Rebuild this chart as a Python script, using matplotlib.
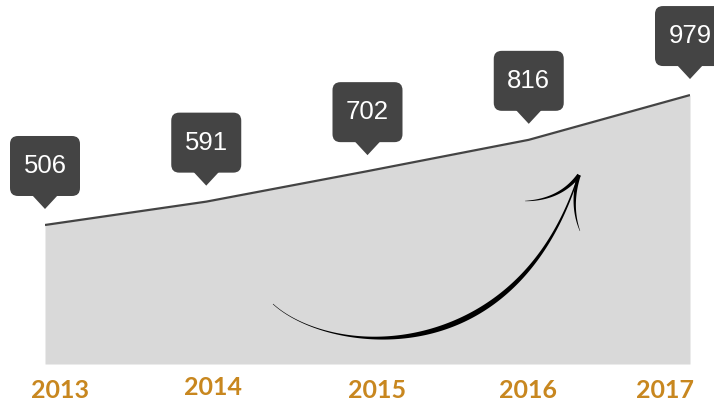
import numpy as np
import matplotlib
matplotlib.use('Agg')
import matplotlib.pyplot as plt
from matplotlib.patches import FancyBboxPatch, Polygon
from math import comb

# ---- data ----
years = ['2013', '2014', '2015', '2016', '2017']
values = [506, 591, 702, 816, 979]

W, H, DPI = 714, 401, 100
LINE = '#444444'
FILL = '#d9d9d9'
BOX = '#444444'
GOLD = '#c8871f'

# per-label pixel nudges for the year row (layout only)
label_dx = [15, 7, 10, -1, -25]
label_dy = [0, 3, 0, 0, 0]

fig = plt.figure(figsize=(W / DPI, H / DPI), dpi=DPI)
x = np.arange(len(values))

ax = fig.add_axes([45 / W, (H - 364) / H, 645 / W, 364 / H])
ax.fill_between(x, 0, values, color=FILL, lw=0)
ax.plot(x, values, color=LINE, lw=1.6, solid_capstyle='butt')
ax.set_xlim(0, len(values) - 1)
ax.set_ylim(0, 1325)
ax.axis('off')

# overlay in figure pixels for callouts and the arrow
ov = fig.add_axes([0, 0, 1, 1], zorder=5)
ov.set_xlim(0, W)
ov.set_ylim(0, H)
ov.axis('off')


def tapered(px, py, widths, **kw):
    dx = np.gradient(px)
    dy = np.gradient(py)
    n = np.hypot(dx, dy)
    nx, ny = -dy / n, dx / n
    left = np.column_stack([px + nx * widths / 2, py + ny * widths / 2])
    right = np.column_stack([px - nx * widths / 2, py - ny * widths / 2])
    ov.add_patch(Polygon(np.vstack([left, right[::-1]]), closed=True, lw=0, **kw))


def bez(pts, t):
    pts = np.asarray(pts, float)
    n = len(pts) - 1
    out = np.zeros((len(t), 2))
    for i, p in enumerate(pts):
        out += comb(n, i) * ((1 - t) ** (n - i) * t ** i)[:, None] * p
    return out


# callouts
bw, bh, gap, tri_h, tri_w = 70, 60, 29, 13, 26
for xi, v in zip(x, values):
    px, py = ax.transData.transform((xi, v))
    tip = py + 16
    b0 = py + gap
    ov.add_patch(FancyBboxPatch((px - bw / 2 + 8, b0 + 8), bw - 16, bh - 16,
                                boxstyle='round,pad=8', fc=BOX, ec='none'))
    ov.add_patch(Polygon([(px - tri_w / 2, b0 + 1), (px + tri_w / 2, b0 + 1), (px, tip)],
                         closed=True, fc=BOX, ec='none'))
    ov.text(px, b0 + bh / 2, f'{v}', color='white', fontsize=18.5,
            family='Liberation Sans', ha='center', va='center')

# year labels
for i, (xi, yr) in enumerate(zip(x, years)):
    px, _ = ax.transData.transform((xi, 0))
    ov.text(px + label_dx[i], H - 398 + label_dy[i], yr, color=GOLD, fontsize=18,
            family='Lato', fontweight='bold', ha='center', va='baseline')

# curved arrow (pixel coords measured from the top)
t = np.linspace(0, 1, 240)
c = bez([(273, 304), (330, 356), (515, 372), (578, 177)], t)
wid = 0.5 + 5.0 * np.exp(-((t - 0.62) / 0.28) ** 2)
tapered(c[:, 0], H - c[:, 1], wid, fc='black')

t2 = np.linspace(0, 1, 60)
barb1 = bez([(579, 175), (560, 200), (525, 201)], t2)
tapered(barb1[:, 0], H - barb1[:, 1], 3.6 * (1 - t2) ** 0.8 + 0.3, fc='black')
barb2 = bez([(579, 175), (570, 205), (580, 231)], t2)
tapered(barb2[:, 0], H - barb2[:, 1], 3.4 * (1 - t2) ** 0.8 + 0.3, fc='black')

fig.savefig('out.png', dpi=DPI)
